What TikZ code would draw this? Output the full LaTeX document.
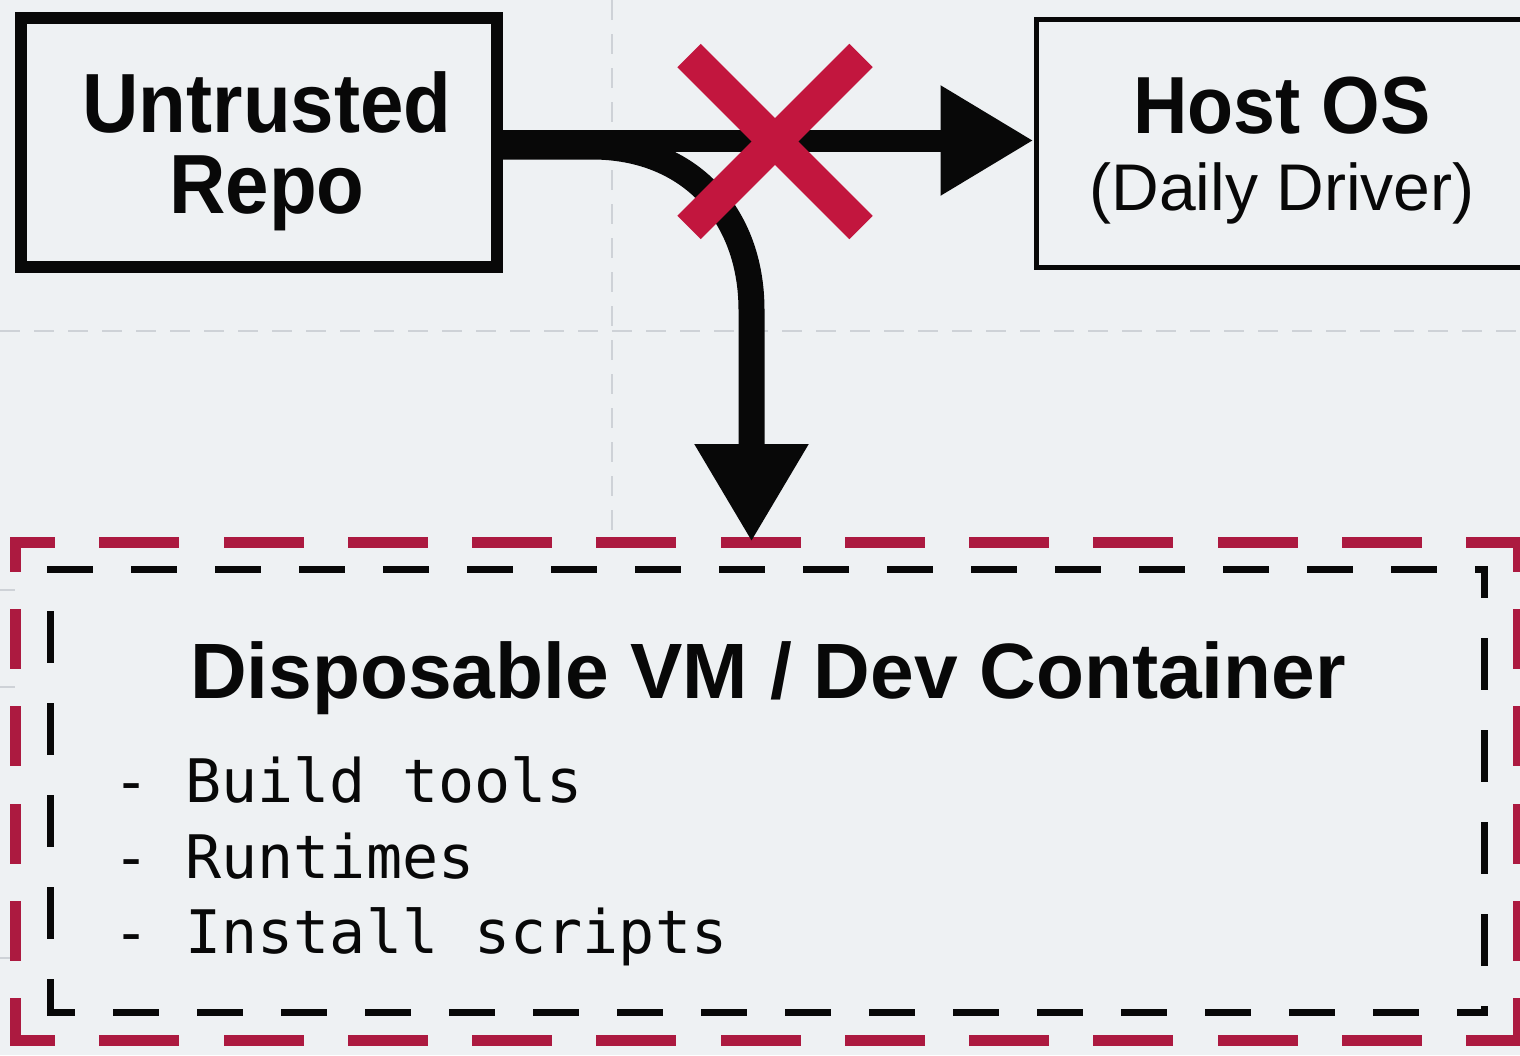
\documentclass[tikz,border=0pt]{standalone}
\usepackage{fontspec}
\setmainfont{Liberation Sans}
\newfontfamily\titlefont{Liberation Sans}[FakeStretch=0.93]
\newfontfamily\codefont{DejaVu Sans Mono}
\usetikzlibrary{arrows.meta,calc}
\definecolor{bgc}{RGB}{238,241,243}
\definecolor{gridc}{RGB}{206,210,215}
\definecolor{crimx}{RGB}{194,22,62}
\definecolor{crimd}{RGB}{172,26,64}
\definecolor{inkc}{RGB}{8,8,8}
\tikzset{
  boxthick/.style={draw=inkc, line width=12pt, fill=bgc, inner sep=0pt},
  boxthin/.style={draw=inkc, line width=5pt, fill=bgc, inner sep=0pt},
  gridline/.style={draw=gridc, line width=2.5pt, dash pattern=on 20pt off 14pt},
  flow/.style={draw=inkc, line width=22pt},
  xbar/.style={draw=crimx, line width=33pt, line cap=butt},
  reddash/.style={draw=crimd, line width=11pt, line cap=rect},
  blackdash/.style={draw=inkc, line width=7pt, line cap=rect},
  titlelab/.style={inner sep=0pt, text=inkc, font=\titlefont\bfseries\fontsize{84}{84}\selectfont},
  sublab/.style={inner sep=0pt, text=inkc, font=\fontsize{66}{66}\selectfont},
  headlab/.style={inner sep=0pt, text=inkc, font=\bfseries\fontsize{78.5}{78.5}\selectfont},
  monolab/.style={inner sep=0pt, text=inkc, font=\codefont\fontsize{60}{60}\selectfont},
}
\begin{document}
\begin{tikzpicture}[x=1pt,y=-1pt]
\fill[bgc] (0,0) rectangle (1520,1055);
\useasboundingbox (0,0) rectangle (1520,1055);
% background grid
\draw[gridline] (612,0) -- (612,540);
\draw[gridline] (0,331) -- (1520,331);
\draw[gridc, line width=2pt] (0,590) -- (15,590);
\draw[gridc, line width=2pt] (0,687) -- (15,687);
\draw[gridc, line width=2pt] (0,958) -- (15,958);
% boxes
\node[boxthick, minimum width=476pt, minimum height=249pt] (ut) at (259,142.5) {};
\node[titlelab, anchor=base] (ut1) at (267,132) {Untrusted};
\node[titlelab, anchor=base] (ut2) at (267,213) {Repo};
\node[boxthin, minimum width=500pt, minimum height=248pt] (host) at (1286,143) {};
\node[titlelab, anchor=base, font=\titlefont\bfseries\fontsize{81}{81}\selectfont] (h1) at (1282,133) {Host OS};
\node[sublab, anchor=base] (h2) at (1282,210) {(Daily Driver)};
% container
\node[minimum width=1491pt, minimum height=486pt, inner sep=0pt, outer sep=6pt] (cont) at (766.5,791) {};
\node[minimum width=1433pt, minimum height=442pt, inner sep=0pt] (inner) at (767.5,791) {};
\draw[reddash, dash pattern=on 69pt off 55.25pt, dash phase=34.5pt] (cont.north west) -- (cont.north east);
\draw[reddash, dash pattern=on 69pt off 55.25pt, dash phase=34.5pt] (cont.south west) -- (cont.south east);
\draw[reddash, dash pattern=on 49pt off 48.2pt, dash phase=24.5pt] (cont.north west) -- (cont.south west);
\draw[reddash, dash pattern=on 49pt off 48.2pt, dash phase=24.5pt] (cont.north east) -- (cont.south east);
\draw[blackdash, dash pattern=on 39pt off 45pt] (inner.north west) -- (inner.north east);
\draw[blackdash, dash pattern=on 45pt off 47pt, dash phase=20pt] (inner.north east) -- (inner.south east);
\draw[blackdash, dash pattern=on 39pt off 45pt, dash phase=15pt] (inner.south east) -- (inner.south west);
\draw[blackdash, dash pattern=on 45pt off 47pt, dash phase=15pt] (inner.south west) -- (inner.north west);
\node[headlab, anchor=base] (title) at (768,698) {Disposable VM / Dev Container};
\node[monolab, anchor=base west] (l1) at (113,802) {- Build tools};
\node[monolab, anchor=base west] (l2) at (113,878) {- Runtimes};
\node[monolab, anchor=base west] (l3) at (113,953) {- Install scripts};
% connectors
\coordinate (turn) at (751.5,310);
\draw[flow, line width=26pt, -{Triangle[length=98pt,width=107pt]}]
  ([yshift=-4pt]ut.east) -- (592,146.5) .. controls (690,146.5) and (751.5,215) .. (turn) -- (turn |- cont.north);
\draw[flow, -{Triangle[length=93pt,width=104pt]}] ([yshift=2pt]ut.east) -- ([yshift=2pt]ut.east -| host.west);
% cross mark
\coordinate (xc) at (775,141.5);
\draw[xbar] ($(xc)+(-86,-86)$) -- ($(xc)+(86,86)$);
\draw[xbar] ($(xc)+(86,-86)$) -- ($(xc)+(-86,86)$);
\end{tikzpicture}
\end{document}
